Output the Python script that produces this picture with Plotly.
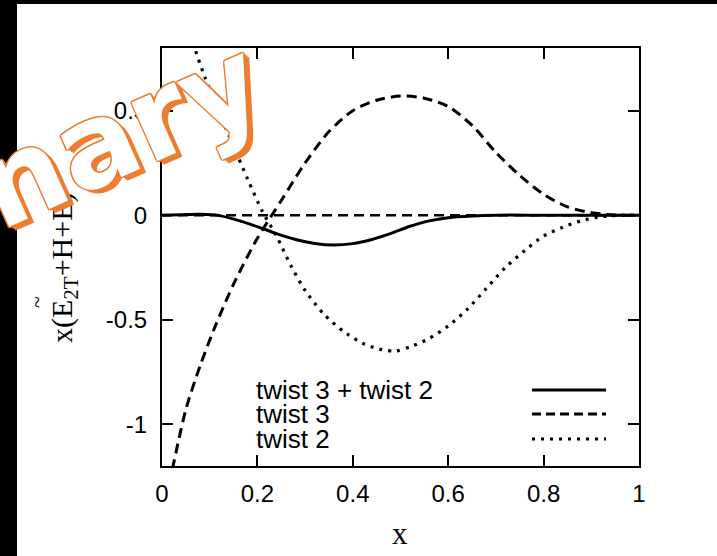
import plotly.graph_objects as go

# ---- data -------------------------------------------------------------
# twist 3 + twist 2 (solid)
x_sum = [0.0, 0.04, 0.08, 0.12, 0.16, 0.20, 0.24, 0.28, 0.32, 0.36, 0.40,
         0.44, 0.48, 0.52, 0.56, 0.60, 0.65, 0.70, 0.80, 0.90, 1.0]
y_sum = [0.0, 0.002, 0.004, -0.002, -0.025, -0.055, -0.088, -0.116, -0.135,
         -0.143, -0.136, -0.116, -0.087, -0.053, -0.027, -0.012, -0.004, 0.0,
         0.0, 0.0, 0.0]

# twist 3 (dashed)
x_tw3 = [0.015, 0.05, 0.08, 0.11, 0.15, 0.20, 0.25, 0.30, 0.35, 0.40, 0.45,
         0.50, 0.55, 0.60, 0.65, 0.70, 0.75, 0.80, 0.85, 0.90, 0.95, 1.0]
y_tw3 = [-1.29, -0.93, -0.72, -0.54, -0.33, -0.11, 0.07, 0.25, 0.40, 0.50,
         0.55, 0.57, 0.56, 0.52, 0.43, 0.30, 0.19, 0.10, 0.04, 0.012, 0.001, 0.0]

# twist 2 (dotted)
x_tw2 = [0.05, 0.07, 0.09, 0.12, 0.15, 0.18, 0.21, 0.24, 0.27, 0.30, 0.34,
         0.38, 0.42, 0.46, 0.49, 0.52, 0.56, 0.60, 0.64, 0.68, 0.72, 0.76,
         0.80, 0.84, 0.88, 0.92, 0.96, 1.0]
y_tw2 = [0.95, 0.79, 0.66, 0.49, 0.33, 0.17, 0.02, -0.10, -0.24, -0.36,
         -0.475, -0.555, -0.612, -0.643, -0.65, -0.63, -0.59, -0.53, -0.45,
         -0.35, -0.25, -0.17, -0.10, -0.058, -0.026, -0.007, -0.001, 0.0]

# zero reference line
x_zero = [0.0, 1.0]
y_zero = [0.0, 0.0]

legend_labels = ["twist 3 + twist 2", "twist 3", "twist 2"]

x_tick_vals = [0, 0.2, 0.4, 0.6, 0.8, 1]
x_tick_text = ["0", "0.2", "0.4", "0.6", "0.8", "1"]
y_tick_vals = [-1, -0.5, 0, 0.5]
y_tick_text = ["-1", "-0.5", "0", "0.5"]

# ---- layout geometry ----------------------------------------------------
W, H = 717, 556
L, R, T, B = 162, 78, 48, 90
PW, PH = W - L - R, H - T - B


def px(xp, yp):
    """pixel position -> paper coordinates"""
    return (xp - L) / PW, (H - B - yp) / PH


SANS = "Liberation Sans, Arial, Helvetica, sans-serif"
SERIF = "Liberation Serif, Times New Roman, serif"
MARK = "DejaVu Sans, Verdana, sans-serif"
ORANGE = "#ED7D31"

fig = go.Figure()

fig.add_trace(go.Scatter(x=x_zero, y=y_zero, mode="lines",
                         line=dict(color="black", width=2.5, dash="10px,6px"),
                         showlegend=False, hoverinfo="skip"))
fig.add_trace(go.Scatter(x=x_tw3, y=y_tw3, mode="lines", name=legend_labels[1],
                         line=dict(color="black", width=3, dash="10px,6px",
                                   shape="spline", smoothing=0.8),
                         showlegend=False))
fig.add_trace(go.Scatter(x=x_tw2, y=y_tw2, mode="lines", name=legend_labels[2],
                         line=dict(color="black", width=3.2, dash="3px,6px",
                                   shape="spline", smoothing=0.8),
                         showlegend=False))
fig.add_trace(go.Scatter(x=x_sum, y=y_sum, mode="lines", name=legend_labels[0],
                         line=dict(color="black", width=3,
                                   shape="spline", smoothing=0.8),
                         showlegend=False))

axis_common = dict(
    showline=True, linewidth=2, linecolor="black", mirror="ticks",
    ticks="inside", ticklen=11, tickwidth=2, tickcolor="black",
    showgrid=False, zeroline=False,
    tickfont=dict(family=SANS, size=24, color="black"),
)
fig.update_xaxes(range=[0, 1], tickvals=x_tick_vals, ticktext=x_tick_text,
                 ticklabelstandoff=5, **axis_common)
fig.update_yaxes(range=[-1.2, 0.8], tickvals=y_tick_vals, ticktext=y_tick_text,
                 ticklabelstandoff=8, **axis_common)

shapes = []
# dark border of the slide
shapes.append(dict(type="rect", xref="paper", yref="paper",
                   x0=px(-5, 0)[0], x1=px(17, 0)[0], y0=px(0, H + 5)[1], y1=px(0, -5)[1],
                   fillcolor="black", line=dict(width=0), layer="above"))
shapes.append(dict(type="rect", xref="paper", yref="paper",
                   x0=px(-5, 0)[0], x1=px(W + 5, 0)[0], y0=px(0, 4)[1], y1=px(0, -5)[1],
                   fillcolor="black", line=dict(width=0), layer="above"))

# key samples (text on the left, line sample on the right)
key_rows = [390, 414, 439]
key_dash = ["solid", "9px,5px", "3px,6px"]
for row, dash in zip(key_rows, key_dash):
    x0, y0 = px(532, row)
    x1, _ = px(606, row)
    shapes.append(dict(type="line", xref="paper", yref="paper",
                       x0=x0, x1=x1, y0=y0, y1=y0,
                       line=dict(color="black", width=3, dash=dash)))

annotations = []
for row, label in zip(key_rows, legend_labels):
    ax, ay = px(254, row)
    annotations.append(dict(xref="paper", yref="paper", x=ax, y=ay,
                            xanchor="left", yanchor="middle", showarrow=False,
                            text=label, font=dict(family=SANS, size=26, color="black")))

# axis titles
tx, ty = px(400, 533)
annotations.append(dict(xref="paper", yref="paper", x=tx, y=ty, showarrow=False,
                        xanchor="center", yanchor="middle",
                        text="x", font=dict(family=SERIF, size=31, color="black")))
yx, yy = px(64, 268)
annotations.append(dict(xref="paper", yref="paper", x=yx, y=yy, showarrow=False,
                        xanchor="center", yanchor="middle", textangle=-90,
                        text="x(E<sub>2T</sub>+H+E)",
                        font=dict(family=SERIF, size=30, color="black")))
tlx, tly = px(36, 302)
annotations.append(dict(xref="paper", yref="paper", x=tlx, y=tly, showarrow=False,
                        xanchor="center", yanchor="middle", textangle=-90,
                        text="~", font=dict(family=SERIF, size=22, color="black")))

# watermark
wx, wy = px(-94, 228)
outline = ", ".join(f"{dx}px {dy}px 0 {ORANGE}" for dx, dy in
                    [(-1, -1), (1, -1), (-1, 1), (1, 1), (0, 1.5), (0, -1.5),
                     (1.5, 0), (-1.5, 0)])
annotations.append(dict(xref="paper", yref="paper", x=wx, y=wy, showarrow=False,
                        xanchor="center", yanchor="middle", textangle=-24,
                        text="Preliminary",
                        font=dict(family=MARK, size=117, color="white", weight="bold",
                                  shadow=outline + f", 4px 6px 0 {ORANGE}, 3px 4px 0 {ORANGE}, 2px 2px 0 {ORANGE}")))

fig.update_layout(
    width=W, height=H, autosize=False,
    margin=dict(l=L, r=R, t=T, b=B, pad=0),
    paper_bgcolor="white", plot_bgcolor="white",
    showlegend=False,
    shapes=shapes, annotations=annotations,
)

fig.write_html("out.html")
